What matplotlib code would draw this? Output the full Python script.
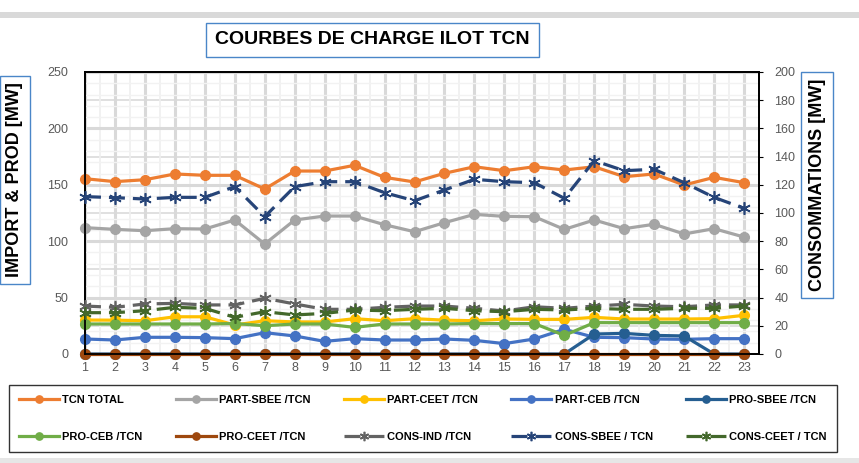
import matplotlib.pyplot as plt
import numpy as np
from matplotlib.patches import Rectangle

plt.rcParams['font.family'] = ['Liberation Sans', 'DejaVu Sans']

hours = list(range(1, 24))

tcn_total = [155.4, 152.8, 154.5, 159.6, 158.4, 158.4, 146.3, 162.2, 162.2, 167.3, 156.6, 152.5,
             160.2, 166.0, 162.5, 166.0, 163.1, 166.0, 157.2, 159.6, 149.8, 156.6, 151.9]
part_sbee = [112.0, 110.5, 109.3, 111.1, 110.8, 118.8, 97.5, 118.8, 122.3, 122.3, 114.6, 108.4,
             116.4, 123.8, 122.0, 121.7, 110.5, 118.8, 111.1, 115.0, 106.4, 111.1, 103.7]
part_ceet = [30.1, 30.0, 29.5, 33.0, 33.0, 25.7, 29.5, 28.4, 28.4, 31.3, 29.5, 31.3,
             30.0, 29.5, 31.0, 30.7, 30.7, 32.5, 31.0, 31.0, 31.0, 31.3, 34.3]
part_ceb = [13.3, 12.4, 14.8, 14.8, 14.5, 13.6, 18.9, 16.0, 11.2, 13.6, 12.4, 12.4,
            13.3, 12.1, 9.2, 13.3, 21.9, 14.8, 14.5, 13.3, 13.0, 13.6, 13.6]
pro_sbee = [0, 0, 0, 0, 0, 0, 0, 0, 0, 0, 0, 0,
            0, 0, 0, 0, 0, 17.7, 18.3, 16.5, 16.0, 0, 0]
pro_ceb = [26.6, 26.6, 26.6, 26.6, 26.6, 27.0, 25.1, 26.6, 26.6, 23.6, 26.6, 26.6,
           26.6, 27.0, 27.0, 27.0, 16.5, 27.8, 27.8, 27.8, 27.8, 27.8, 27.8]
pro_ceet = [0] * 23
cons_ind = [34.0, 33.1, 35.5, 35.9, 34.8, 34.8, 39.5, 35.5, 31.7, 31.7, 33.1, 34.0,
            34.0, 32.4, 30.5, 33.5, 32.4, 34.0, 35.2, 34.0, 33.5, 34.8, 34.8]
cons_sbee = [111.6, 110.9, 109.9, 111.1, 111.1, 118.7, 97.4, 118.7, 122.2, 122.2, 114.4, 108.7,
             116.3, 123.9, 122.2, 121.5, 110.4, 137.1, 130.0, 131.0, 121.5, 111.1, 103.3]
cons_ceet = [29.3, 29.3, 30.7, 33.1, 32.4, 26.0, 30.0, 27.7, 28.8, 31.2, 30.7, 31.7,
             32.4, 30.7, 30.0, 31.7, 31.2, 32.4, 31.7, 31.7, 32.4, 32.4, 34.0]

left_series = [
    ('TCN TOTAL', tcn_total, '#ED7D31'),
    ('PART-SBEE /TCN', part_sbee, '#A5A5A5'),
    ('PART-CEET /TCN', part_ceet, '#FFC000'),
    ('PART-CEB /TCN', part_ceb, '#4472C4'),
    ('PRO-SBEE /TCN', pro_sbee, '#255E91'),
    ('PRO-CEB /TCN', pro_ceb, '#70AD47'),
    ('PRO-CEET /TCN', pro_ceet, '#9E480E'),
]
right_series = [
    ('CONS-IND /TCN', cons_ind, '#636363'),
    ('CONS-SBEE / TCN', cons_sbee, '#264478'),
    ('CONS-CEET / TCN', cons_ceet, '#43682B'),
]

fig = plt.figure(figsize=(8.59, 4.63), dpi=100)
ax = fig.add_axes([85 / 859, 1 - 354 / 463, (759 - 85) / 859, (354 - 72) / 463])
ax2 = ax.twinx()

ax.set_xlim(1, 23.5)
ax.set_ylim(0, 250)
ax2.set_ylim(0, 200)

# grid
ax.set_xticks(hours)
ax.set_xticks(np.arange(1.5, 23.6, 1), minor=True)
ax.set_yticks(np.arange(0, 251, 50))
ax.set_yticks(np.arange(0, 251, 10), minor=True)
ax.grid(which='major', axis='x', color='#d9d9d9', lw=2.2, zorder=0)
ax.grid(which='minor', axis='x', color='#efefef', lw=1.2, zorder=0)
ax.grid(which='major', axis='y', color='#d9d9d9', lw=2.2, zorder=0)
ax.grid(which='minor', axis='y', color='#f2f2f2', lw=1.0, zorder=0)
ax.hlines(np.arange(25, 250, 50), 1, 23.5, color='#e0e0e0', lw=1.4, zorder=0)
ax.set_axisbelow(True)

handles = {}
for name, vals, col in left_series:
    h, = ax.plot(hours, vals, color=col, lw=2.3, marker='o', ms=7, label=name,
                 clip_on=False, zorder=3)
    handles[name] = h
for name, vals, col in right_series:
    h, = ax2.plot(hours, vals, color=col, lw=2.3, ls=(0, (5, 2.5)), marker=(6, 2, 0), ms=9,
                  mew=1.2, label=name, clip_on=False, zorder=3)
    handles[name] = h

for a in (ax, ax2):
    for s in a.spines.values():
        s.set_color('black')
        s.set_linewidth(1.3)

ax.tick_params(axis='both', which='both', length=0, colors='#595959', labelsize=9)
ax.tick_params(axis='x', pad=6)
ax.tick_params(axis='y', pad=12)
ax2.tick_params(axis='y', length=3, color='black', labelcolor='#595959', labelsize=9, pad=8)
ax2.set_yticks(np.arange(0, 201, 20))

# title and axis label boxes
fig.text(372.5 / 859, 1 - 40 / 463, 'COURBES DE CHARGE ILOT TCN', ha='center', va='center',
         fontsize=14, fontweight='bold',
         bbox=dict(boxstyle='square,pad=0.45', fc='white', ec='#4a86c8', lw=1))
fig.text(15 / 859, 1 - 180 / 463, 'IMPORT & PROD [MW]', rotation=90, ha='center', va='center',
         fontsize=13, fontweight='bold',
         bbox=dict(boxstyle='square,pad=0.35', fc='white', ec='#4a86c8', lw=1))
fig.text(817 / 859, 1 - 185 / 463, 'CONSOMMATIONS [MW]', rotation=90, ha='center', va='center',
         fontsize=13, fontweight='bold',
         bbox=dict(boxstyle='square,pad=0.4', fc='white', ec='#4a86c8', lw=1))

# grey bands
fig.patches.append(Rectangle((0, 1 - 18 / 463), 1, 6 / 463, transform=fig.transFigure,
                             fc='#d9d9d9', ec='none'))
fig.patches.append(Rectangle((0, 0), 1, 5 / 463, transform=fig.transFigure,
                             fc='#e6e6e6', ec='none'))

# legend, row-major order as in the original
order = ['TCN TOTAL', 'PRO-CEB /TCN', 'PART-SBEE /TCN', 'PRO-CEET /TCN',
         'PART-CEET /TCN', 'CONS-IND /TCN', 'PART-CEB /TCN', 'CONS-SBEE / TCN',
         'PRO-SBEE /TCN', 'CONS-CEET / TCN']
leg = fig.legend([handles[k] for k in order], order, ncol=5, mode='expand',
                 bbox_to_anchor=(3 / 859, 1 - 458 / 463, 840 / 859, 73 / 463),
                 loc='lower left', frameon=True, fancybox=False, edgecolor='black',
                 prop={'weight': 'bold', 'size': 8}, handlelength=3.6, handletextpad=0.3,
                 labelspacing=2.4, borderpad=0.95, markerscale=0.75)
leg.get_frame().set_linewidth(1.0)

fig.savefig('out.png', dpi=100)
